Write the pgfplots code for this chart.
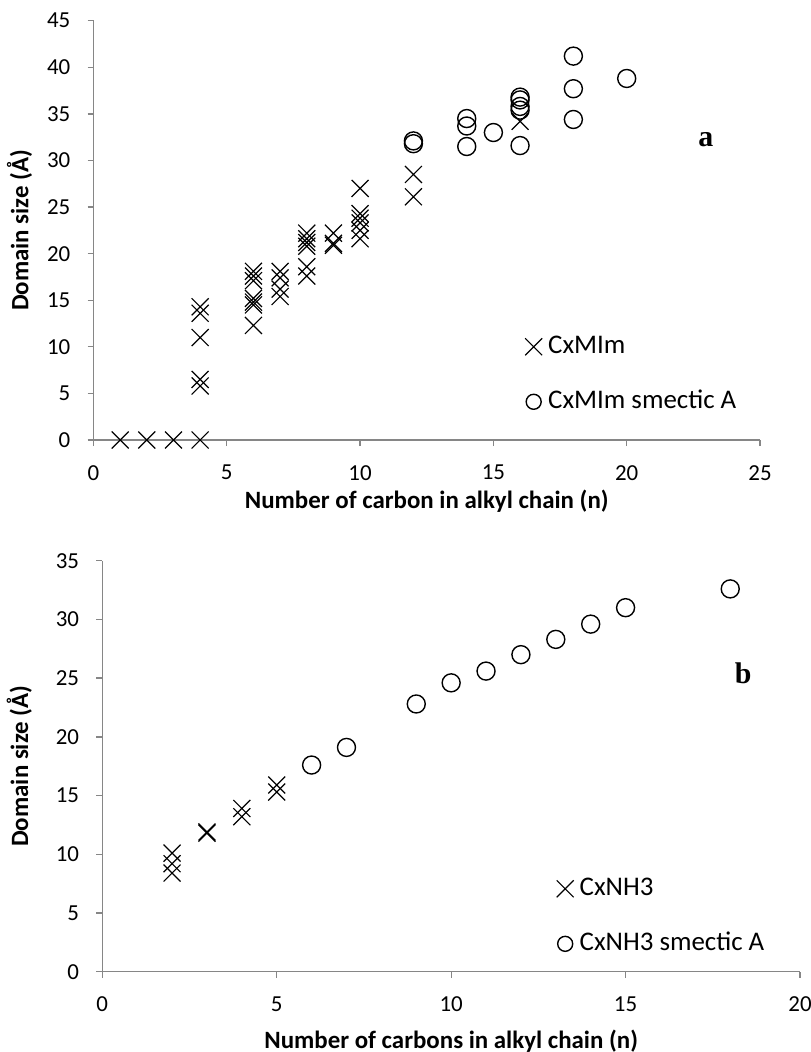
\documentclass[border=0pt]{standalone}
\usepackage{fontspec}
\setmainfont{Carlito}
\newfontfamily\tnr{Liberation Serif}
\usepackage{pgfplots}
\pgfplotsset{compat=1.18}
\definecolor{axgray}{HTML}{868686}

\pgfplotsset{
  myax/.style={
    scale only axis,
    axis x line*=bottom, axis y line*=left,
    axis line style={axgray, line width=1.3bp, -},
    tick style={axgray, line width=1.3bp},
    tick align=outside,
    major tick length=6bp,
    /pgf/number format/assume math mode=true,
    ticklabel style={font=\fontsize{23}{27}\selectfont, inner sep=0pt},
    xticklabel style={anchor=north, yshift=-19bp},
    yticklabel style={anchor=east, xshift=-17bp},
    label style={font=\bfseries\fontsize{25}{29}\selectfont},
    legend cell align=left,
    legend style={draw=none, fill=none, font=\fontsize{27}{31}\selectfont,
      row sep=28bp, column sep=6bp, inner sep=0pt,
      nodes={inner sep=0pt, text height=20bp, text depth=7bp}},
    legend image code/.code={\draw[mark repeat=2,mark phase=2,##1] plot coordinates {(0bp,0bp)(8.5bp,0bp)(17bp,0bp)};},
    clip=false,
  },
  xser/.style={only marks, mark=x, mark size=12bp, color=black, line width=1.2bp},
  oser/.style={only marks, mark=o, mark size=9bp, color=black, line width=1.4bp},
}

\pgfplotstableread{
x y
1 0
2 0
3 0
4 0
4 14.3
4 13.6
4 11.0
4 6.5
4 5.8
6 18.1
6 17.6
6 17.1
6 15.2
6 14.8
6 14.5
6 12.3
7 18.1
7 17.4
7 16.2
7 15.4
8 22.2
8 21.6
8 21.2
8 20.8
8 18.6
8 17.6
9 22.2
9 21.1
9 20.9
10 27.0
10 24.3
10 23.8
10 23.3
10 22.5
10 21.6
12 28.5
12 26.1
16 34.2
}\cxmim

\pgfplotstableread{
x y
12 32.1
12 31.8
14 34.5
14 33.7
14 31.5
15 33.0
16 36.8
16 36.5
16 35.8
16 35.4
16 31.6
18 41.2
18 37.7
18 34.4
20 38.8
}\cxmimsa

\pgfplotstableread{
x y
2 10.1
2 9.2
2 8.4
3 11.8
3 11.9
4 13.9
4 13.2
5 15.9
5 15.3
}\cxnh

\pgfplotstableread{
x y
6 17.6
7 19.1
9 22.8
10 24.6
11 25.6
12 27.0
13 28.3
14 29.6
15 31.0
18 32.6
}\cxnhsa

\begin{document}
\begin{tikzpicture}
\useasboundingbox (0,0) rectangle (811bp,-1052bp);
\begin{axis}[myax,
  at={(93.5bp,-440bp)}, anchor=south west,
  width=666.5bp, height=419.3bp,
  xmin=0, xmax=25, ymin=0, ymax=45,
  xtick={0,5,...,25}, ytick={0,5,...,45},
  xlabel={Number of carbon in alkyl chain (n)},
  ylabel={Domain size (Å)},
  xlabel style={at={(axis description cs:0.5,-0.164)}, anchor=base},
  ylabel style={at={(axis description cs:-0.111,0.5)}, anchor=center},
  legend style={at={(axis description cs:0.6474,0.255)}, anchor=north west},
]
\addplot[xser, forget plot] table {\cxmim};
\addplot[oser, forget plot] table {\cxmimsa};
\addlegendimage{xser}
\addlegendentry{CxMIm}
\addlegendimage{oser, mark size=7.5bp}
\addlegendentry{CxMIm smectic A}
\node[font=\tnr\bfseries\fontsize{30}{30}\selectfont] at (axis cs:22.97,32.2) {a};
\end{axis}

\begin{axis}[myax,
  at={(102.3bp,-971.7bp)}, anchor=south west,
  width=697.7bp, height=411bp,
  xmin=0, xmax=20, ymin=0, ymax=35,
  xtick={0,5,...,20}, ytick={0,5,...,35},
  xlabel={Number of carbons in alkyl chain (n)},
  ylabel={Domain size (Å)},
  xlabel style={at={(axis description cs:0.5,-0.187)}, anchor=base},
  ylabel style={at={(axis description cs:-0.119,0.5)}, anchor=center},
  legend style={at={(axis description cs:0.651,0.235)}, anchor=north west},
]
\addplot[xser, forget plot] table {\cxnh};
\addplot[oser, forget plot] table {\cxnhsa};
\addlegendimage{xser}
\addlegendentry{CxNH3}
\addlegendimage{oser, mark size=7.5bp}
\addlegendentry{CxNH3 smectic A}
\node[font=\tnr\bfseries\fontsize{30}{30}\selectfont] at (axis cs:18.37,25.4) {b};
\end{axis}
\end{tikzpicture}
\end{document}
